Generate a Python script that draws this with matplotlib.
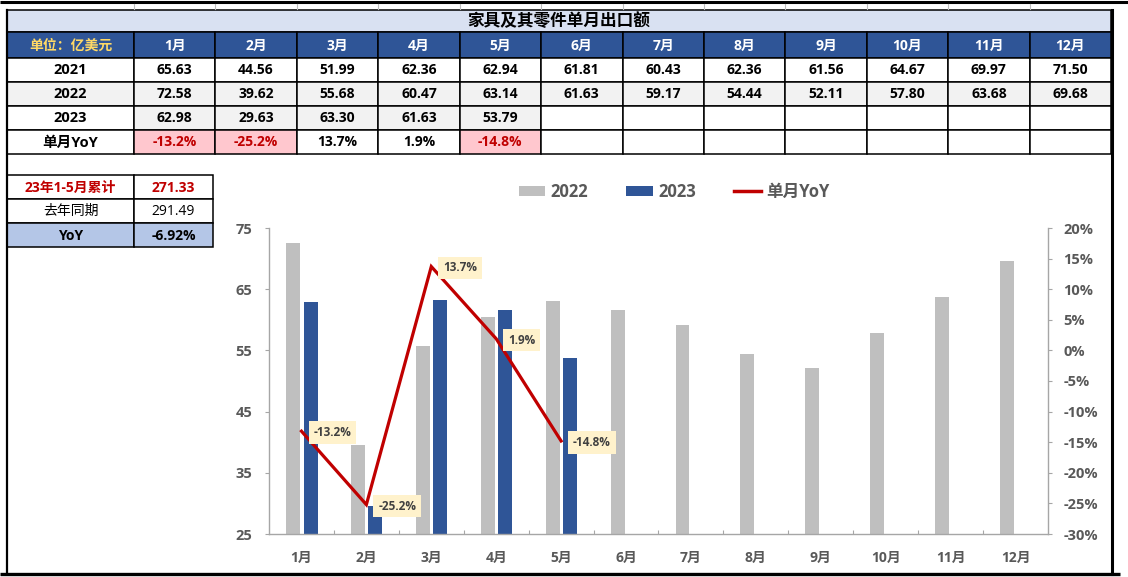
import matplotlib
matplotlib.use("Agg")
import matplotlib.pyplot as plt
import numpy as np
from matplotlib.patches import Rectangle, Patch
from matplotlib.lines import Line2D

plt.rcParams['font.family'] = ['Open Sans', 'Noto Sans CJK SC', 'DejaVu Sans']

# ---------------- data ----------------
title = "家具及其零件单月出口额"
unit_label = "单位：亿美元"
months = ["1月", "2月", "3月", "4月", "5月", "6月", "7月", "8月", "9月", "10月", "11月", "12月"]
v2021 = [65.63, 44.56, 51.99, 62.36, 62.94, 61.81, 60.43, 62.36, 61.56, 64.67, 69.97, 71.50]
v2022 = [72.58, 39.62, 55.68, 60.47, 63.14, 61.63, 59.17, 54.44, 52.11, 57.80, 63.68, 69.68]
v2023 = [62.98, 29.63, 63.30, 61.63, 53.79]
yoy = [-13.2, -25.2, 13.7, 1.9, -14.8]
cum_labels = ["23年1-5月累计", "去年同期", "YoY"]
cum_values = ["271.33", "291.49", "-6.92%"]
legend_labels = ["2022", "2023", "单月YoY"]

C_GRAY = '#BFBFBF'
C_BLUE = '#2F5597'
C_RED = '#C00000'
C_TXT = '#595959'

W, H = 1128, 577
fig = plt.figure(figsize=(W / 100, H / 100), dpi=100)

# overlay axes in pixel coordinates
ax0 = fig.add_axes([0, 0, 1, 1])
ax0.set_xlim(0, W)
ax0.set_ylim(H, 0)
ax0.axis('off')
ax0.set_zorder(0)

LW = 1.1


def cell(x0, x1, y0, y1, text="", fc='white', color='black', weight='bold', size=10, lw=LW):
    ax0.add_patch(Rectangle((x0, y0), x1 - x0, y1 - y0, facecolor=fc, edgecolor='black', linewidth=lw))
    if text:
        ax0.text((x0 + x1) / 2, (y0 + y1) / 2 + 0.5, text, ha='center', va='center',
                 color=color, fontweight=weight, fontsize=size)


# top line + small grid marks
ax0.plot([0, W], [2, 2], color='black', lw=2.2, solid_capstyle='butt')
col_edges = [7] + [134 + i * (1111 - 134) / 12 for i in range(13)]
for xe in col_edges[1:-1]:
    ax0.plot([xe, xe], [4, 9], color='#BDBDBD', lw=0.8)

# title row
cell(7, 1111, 10, 32, title, fc='#D9E1F2', size=12)
# header row
hy0, hy1 = 32, 58
cell(col_edges[0], col_edges[1], hy0, hy1, unit_label, fc=C_BLUE, color='#FFD966', size=10)
for i, m in enumerate(months):
    cell(col_edges[i + 1], col_edges[i + 2], hy0, hy1, m, fc=C_BLUE, color='white', size=10)

row_edges = [58, 82, 106, 130, 154]
rows = [("2021", v2021), ("2022", v2022), ("2023", v2023)]
for r, (name, vals) in enumerate(rows):
    y0, y1 = row_edges[r], row_edges[r + 1]
    first_fc = '#F2F2F2' if name == "2022" else 'white'
    cell(col_edges[0], col_edges[1], y0, y1, name, fc=first_fc, size=10.5)
    for i in range(12):
        if i < len(vals):
            fc = '#F2F2F2' if name in ("2022", "2023") else 'white'
            cell(col_edges[i + 1], col_edges[i + 2], y0, y1, f"{vals[i]:.2f}", fc=fc, size=10)
        else:
            cell(col_edges[i + 1], col_edges[i + 2], y0, y1)

y0, y1 = row_edges[3], row_edges[4]
cell(col_edges[0], col_edges[1], y0, y1, "单月YoY", size=10.5)
for i in range(12):
    if i < len(yoy):
        if yoy[i] < 0:
            cell(col_edges[i + 1], col_edges[i + 2], y0, y1, f"{yoy[i]:.1f}%", fc='#FFC7CE', color=C_RED, size=10)
        else:
            cell(col_edges[i + 1], col_edges[i + 2], y0, y1, f"{yoy[i]:.1f}%", size=10)
    else:
        cell(col_edges[i + 1], col_edges[i + 2], y0, y1)

# cumulative table
cx = [7, 134, 213]
cy = [175, 199, 223, 247]
styles = [
    dict(fc='white', color=C_RED, weight='bold'),
    dict(fc='white', color='black', weight='normal'),
    dict(fc='#B4C6E7', color='black', weight='bold'),
]
for r in range(3):
    st = styles[r]
    cell(cx[0], cx[1], cy[r], cy[r + 1], cum_labels[r], fc=st['fc'], color=st['color'], weight=st['weight'], size=10)
    cell(cx[1], cx[2], cy[r], cy[r + 1], cum_values[r], fc=st['fc'], color=st['color'], weight=st['weight'], size=10)

# outer frame
ax0.plot([7, 7], [10, 574], color='black', lw=1.6)
ax0.plot([1111.5, 1111.5], [10, 574], color='black', lw=2.2)
ax0.plot([0, 1120], [574, 574], color='black', lw=2.4, solid_capstyle='butt')

# ---------------- chart ----------------
L, R, B, T = 269, 1048, 534, 228
ax = fig.add_axes([L / W, (H - B) / H, (R - L) / W, (B - T) / H])
ax.set_facecolor('none')
ax.set_zorder(1)
x = np.arange(12)
ax.bar(x - 0.13, v2022, width=0.215, color=C_GRAY, zorder=2)
ax.bar(x[:len(v2023)] + 0.14, v2023, width=0.215, color=C_BLUE, zorder=2)
ax.set_xlim(-0.5, 11.5)
ax.set_ylim(25, 75)
ax.set_yticks(np.arange(25, 76, 10))
ax.set_xticks(x)
ax.set_xticklabels(months)
ax.set_xticks(np.arange(0.5, 11, 1), minor=True)
ax.tick_params(axis='x', which='major', length=0, pad=12, labelsize=10, labelcolor=C_TXT)
ax.tick_params(axis='x', which='minor', length=3, direction='in', color='#A6A6A6', width=0.8)
ax.tick_params(axis='y', length=3, direction='out', color='#A6A6A6', width=0.8, pad=9,
               labelsize=10.5, labelcolor=C_TXT)
for lab in ax.get_xticklabels() + ax.get_yticklabels():
    lab.set_fontweight('bold')
for s in ['top', 'right']:
    ax.spines[s].set_visible(False)
for s in ['left', 'bottom']:
    ax.spines[s].set_color('#A6A6A6')
    ax.spines[s].set_linewidth(1.0)

ax2 = ax.twinx()
ax2.set_zorder(2)
ax2.set_facecolor('none')
ax2.plot(x[:len(yoy)], yoy, color=C_RED, lw=2.3, zorder=3, solid_joinstyle='miter')
ax2.set_ylim(-30, 20)
ax2.set_yticks(np.arange(-30, 21, 5))
ax2.set_yticklabels([f"{v}%" for v in np.arange(-30, 21, 5)])
ax2.tick_params(axis='y', length=3, direction='out', color='#A6A6A6', width=0.8, pad=8,
                labelsize=10.5, labelcolor=C_TXT)
for lab in ax2.get_yticklabels():
    lab.set_fontweight('bold')
for s in ['top', 'left', 'bottom']:
    ax2.spines[s].set_visible(False)
ax2.spines['right'].set_color('#A6A6A6')
ax2.spines['right'].set_linewidth(1.0)

for i, v in enumerate(yoy):
    ax2.annotate(f"{v:.1f}%", (i, v), xytext=(8.5, -1), textcoords='offset points',
                 ha='left', va='center', fontsize=8.5, fontweight='bold', color='#404040',
                 bbox=dict(boxstyle='square,pad=0.4', fc='#FFF2CC', ec='none'), zorder=4)

handles = [Patch(facecolor=C_GRAY, edgecolor='none'),
           Patch(facecolor=C_BLUE, edgecolor='none'),
           Line2D([0], [0], color=C_RED, lw=2.5)]
leg = fig.legend(handles, legend_labels, loc='center', bbox_to_anchor=(674 / W, 1 - 192 / H),
                 ncol=3, frameon=False, prop={'weight': 'bold', 'size': 12},
                 labelcolor=C_TXT, handlelength=1.6, handleheight=0.6, columnspacing=2.3,
                 handletextpad=0.3)

fig.savefig("out.png", dpi=100)
